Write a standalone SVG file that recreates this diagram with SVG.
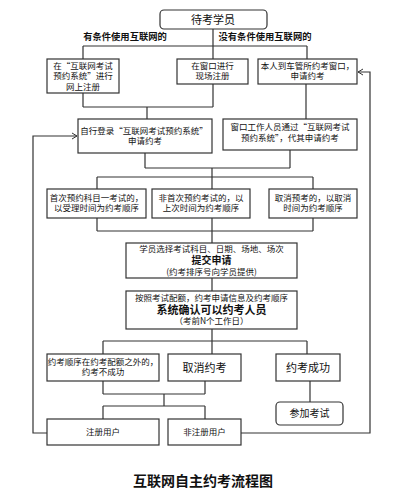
<svg xmlns="http://www.w3.org/2000/svg" width="403" height="500" viewBox="0 0 403 500">
<style>
.b{fill:#fff;stroke:#333;stroke-width:1.2}
.c{fill:none;stroke:#333;stroke-width:1.2}
text{font-family:"Noto Sans CJK SC","Liberation Sans",sans-serif;fill:#111;text-anchor:middle}
.s{font-size:8.5px}
.m{font-size:10px}
.l{font-size:11px}
.bd{font-weight:bold}
</style>
<defs>
<marker id="ar" markerWidth="8" markerHeight="8" refX="6" refY="4" orient="auto" markerUnits="userSpaceOnUse">
<path d="M1,1 L6,4 L1,7" fill="none" stroke="#333" stroke-width="1"/>
</marker>
</defs>
<rect width="403" height="500" fill="#fff"/>
<g id="connectors">
<path class="c" d="M213,29 V46 M83,46 H307 M83,46 V59 M213,46 V59 M307,46 V59"/>
<path class="c" d="M83,93 V107 M213,84 V107 M83,107 H213 M147,107 V119"/>
<path class="c" d="M306,84 V119"/>
<path class="c" d="M145,153 V168 M290,150 V168 M145,168 H290"/>
<path class="c" d="M212,168 V243 M97,177 H313 M97,177 V189 M212,177 V189 M313,177 V189 M97,218 V231 M313,218 V231 M97,231 H313"/>
<path class="c" d="M212,278 V291 M212,329 V341 M103,341 H307 M103,341 V354 M212,341 V354 M307,341 V354"/>
<path class="c" d="M310,381 V402"/>
<path class="c" d="M103,381 V394 M205,381 V394 M103,394 H205 M164,394 V406 M103,406 H205 M103,406 V419 M205,406 V419"/>
<path class="c" d="M47,433 H33 V136 H77" marker-end="url(#ar)"/>
<path class="c" d="M241,433 H370 V72 H358" marker-end="url(#ar)"/>
</g>
<g id="n_top"><rect class="b" x="160" y="10" width="107" height="19" rx="4"/><text class="l" x="213" y="24">待考学员</text></g>
<g id="lbl_yes"><text class="bd" x="125" y="40" style="font-size:9.3px">有条件使用互联网的</text></g>
<g id="lbl_no"><text class="bd" x="265" y="40" style="font-size:9.3px">没有条件使用互联网的</text></g>
<g id="n1"><rect class="b" x="47" y="59" width="72" height="34"/><text class="s" x="83" y="68.5">在“互联网考试</text><text class="s" x="83" y="79">预约系统”进行</text><text class="s" x="83" y="89.5">网上注册</text></g>
<g id="n2"><rect class="b" x="177" y="59" width="71" height="25"/><text class="s" x="212.5" y="69">在窗口进行</text><text class="s" x="212.5" y="79">现场注册</text></g>
<g id="n3"><rect class="b" x="258" y="59" width="99" height="25"/><text class="s" x="307.5" y="69">本人到车管所约考窗口，</text><text class="s" x="307.5" y="79">申请约考</text></g>
<g id="n4"><rect class="b" x="78" y="119" width="134" height="34"/><text class="s" x="144" y="134">自行登录“互联网考试预约系统”</text><text class="s" x="145" y="144">申请约考</text></g>
<g id="n5"><rect class="b" x="223" y="119" width="134" height="31"/><text class="s" x="290" y="130">窗口工作人员通过“互联网考试</text><text class="s" x="290" y="141">预约系统”，代其申请约考</text></g>
<g id="n6"><rect class="b" x="47" y="189" width="99" height="29"/><text class="s" x="96.5" y="201">首次预约科目一考试的，</text><text class="s" x="96.5" y="211">以受理时间为约考顺序</text></g>
<g id="n7"><rect class="b" x="152" y="189" width="98" height="29"/><text class="s" x="201" y="201">非首次预约考试的，以</text><text class="s" x="201" y="211">上次时间为约考顺序</text></g>
<g id="n8"><rect class="b" x="269" y="189" width="88" height="29"/><text class="s" x="313" y="201">取消预考的，以取消</text><text class="s" x="313" y="211">时间为约考顺序</text></g>
<g id="n9"><rect class="b" x="126" y="243" width="171" height="35"/><text class="s" x="211.5" y="252">学员选择考试科目、日期、场地、场次</text><text class="m bd" x="211.5" y="264">提交申请</text><text class="s" x="211.5" y="275">(约考排序号向学员提供)</text></g>
<g id="n10"><rect class="b" x="126" y="291" width="171" height="38"/><text class="s" x="211.5" y="301">按照考试配额，约考申请信息及约考顺序</text><text class="l bd" x="211.5" y="314">系统确认可以约考人员</text><text class="s" x="211.5" y="324">（考前N个工作日）</text></g>
<g id="n11"><rect class="b" x="47" y="354" width="112" height="27"/><text class="s" x="103" y="365">约考顺序在约考配额之外的，</text><text class="s" x="103" y="375">约考不成功</text></g>
<g id="n12"><rect class="b" x="168" y="354" width="73" height="27"/><text class="l" x="204.5" y="372">取消约考</text></g>
<g id="n13"><rect class="b" x="276" y="354" width="64" height="27"/><text class="l" x="308" y="372">约考成功</text></g>
<g id="n14"><rect class="b" x="276" y="402" width="67" height="23" rx="4"/><text class="m" x="309.5" y="417">参加考试</text></g>
<g id="n15"><rect class="b" x="47" y="419" width="112" height="26"/><text class="s" x="103" y="435">注册用户</text></g>
<g id="n16"><rect class="b" x="168" y="419" width="73" height="26"/><text class="s" x="204.5" y="435">非注册用户</text></g>
<g id="title"><text class="bd" x="203" y="486" style="font-size:14px">互联网自主约考流程图</text></g>
</svg>
